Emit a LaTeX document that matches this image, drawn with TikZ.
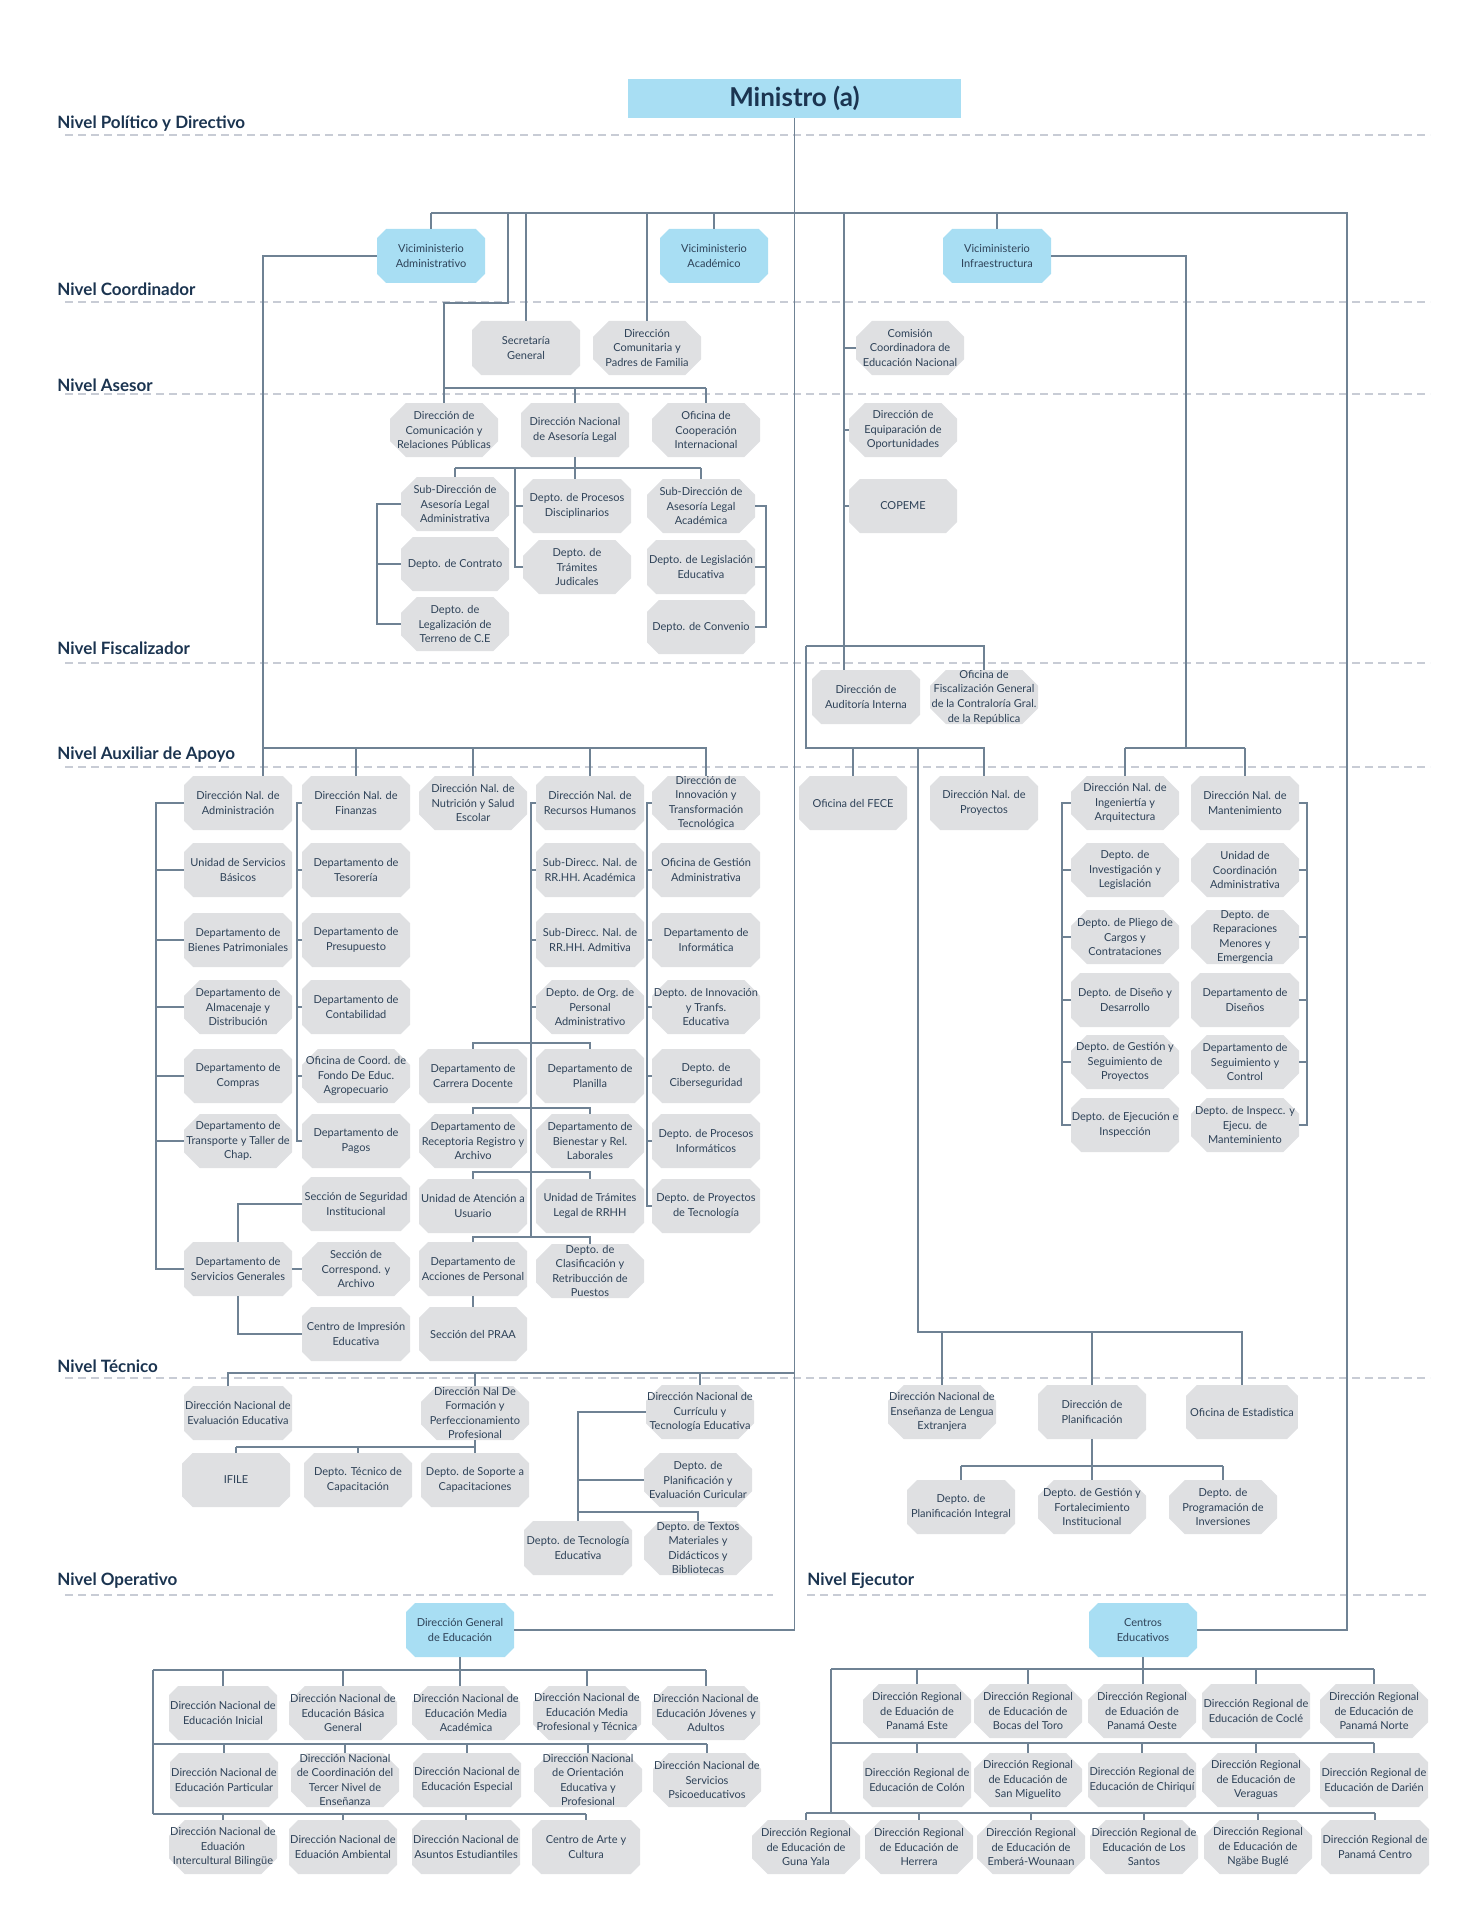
\documentclass[tikz,border=0pt]{standalone}
\usepackage{fontspec}
\setmainfont{Lato}
\usetikzlibrary{shapes.misc}
\definecolor{boxgray}{HTML}{DFE0E2}
\definecolor{boxblue}{HTML}{A8DEF3}
\definecolor{boxtext}{HTML}{2E4258}
\definecolor{navy}{HTML}{1B3450}
\definecolor{linecol}{HTML}{6F8294}
\definecolor{dashcol}{HTML}{C8CCD5}
\tikzset{
  box/.style={chamfered rectangle, chamfered rectangle xsep=4.5pt, fill=boxgray,
    minimum width=54pt, minimum height=27pt, inner xsep=-4.5pt, inner ysep=-4.5pt,
    align=center, text=boxtext, font=\fontsize{5.5}{7.3}\selectfont},
  boxone/.style={box, inner xsep=0pt, inner ysep=0pt},
  bluebox/.style={box, fill=boxblue},
  headbox/.style={rectangle, fill=boxblue, minimum width=166.5pt, minimum height=19.5pt,
    inner sep=0pt, text=navy, font=\fontsize{13}{15}\selectfont\bfseries},
  lvl/.style={anchor=west, inner sep=0pt, text=navy, font=\fontsize{8.5}{10}\selectfont\bfseries},
  lvlline/.style={draw=dashcol, line width=0.6pt, dash pattern=on 4pt off 2.5pt},
  conn/.style={draw=linecol, line width=0.7pt},
}
\begin{document}
\begin{tikzpicture}[x=0.5pt, y=-0.5pt]
\useasboundingbox (0,0) rectangle (1482,1920);

% niveles
\foreach \n/\ly/\dy/\t in {lpol/124/135/{Nivel Político y Directivo}, lcoo/289/302/{Nivel Coordinador},
  lase/385/394/{Nivel Asesor}, lfis/648/663/{Nivel Fiscalizador}, laux/755/767/{Nivel Auxiliar de Apoyo},
  ltec/1366/1378/{Nivel Técnico}}{
  \node[lvl] (\n) at (57,\ly) {\t};
  \draw[lvlline] (65,\dy) -- (1430,\dy);
}
\node[lvl] (lope) at (57,1581) {Nivel Operativo};
\draw[lvlline] (65,1595) -- (773,1595);
\node[lvl] (leje) at (807,1581) {Nivel Ejecutor};
\draw[lvlline] (807,1595) -- (1430,1595);

% politico y coordinador
\node[headbox] (min) at (794.5,98.5) {Ministro (a)};
\node[bluebox] (vadm) at (431,256) {Viciministerio\\Administrativo};
\node[bluebox] (vaca) at (714,256) {Viciministerio\\Académico};
\node[bluebox] (vinf) at (997,256) {Viciministerio\\Infraestructura};
\node[box] (sec) at (526,348) {Secretaría\\General};
\node[box] (dcom) at (647,348) {Dirección\\Comunitaria y\\Padres de Familia};
\node[box] (com) at (910,348) {Comisión\\Coordinadora de\\Educación Nacional};

% asesor
\node[box] (drp) at (444,430) {Dirección de\\Comunicación y\\Relaciones Públicas};
\node[box] (dal) at (575,430) {Dirección Nacional\\de Asesoría Legal};
\node[box] (oci) at (706,430) {Oficina de\\Cooperación\\Internacional};
\node[box] (deo) at (903,430) {Dirección de\\Equiparación de\\Oportunidades};
\node[boxone] (cop) at (903,506) {COPEME};
\node[box] (sla) at (455,504) {Sub-Dirección de\\Asesoría Legal\\Administrativa};
\node[boxone] (dcon) at (455,564) {Depto. de Contrato};
\node[box] (dleg) at (455,624) {Depto. de\\Legalización de\\Terreno de C.E};
\node[box] (dpd) at (577,506) {Depto. de Procesos\\Disciplinarios};
\node[box] (dtj) at (577,567) {Depto. de\\Trámites\\Judicales};
\node[box] (slac) at (701,506) {Sub-Dirección de\\Asesoría Legal\\Académica};
\node[box] (dle) at (701,567) {Depto. de Legislación\\Educativa};
\node[boxone] (dconv) at (701,627) {Depto. de Convenio};

% fiscalizador
\node[box] (dai) at (866,697) {Dirección de\\Auditoría Interna};
\node[box] (ofg) at (984,697) {Oficina de\\Fiscalización General\\de la Contraloría Gral.\\de la República};

% auxiliar de apoyo
\foreach \y/\t [count=\i] in {803/{Dirección Nal. de\\Administración}, 870/{Unidad de Servicios\\Básicos},
  940/{Departamento de\\Bienes Patrimoniales}, 1007/{Departamento de\\Almacenaje y\\Distribución},
  1076/{Departamento de\\Compras}, 1141/{Departamento de\\Transporte y Taller de\\Chap.}}
  \node[box] (adm\i) at (238,\y) {\t};
\node[box] (sgen) at (238,1269) {Departamento de\\Servicios Generales};
\foreach \y/\t [count=\i] in {803/{Dirección Nal. de\\Finanzas}, 870/{Departamento de\\Tesorería},
  940/{Departamento de\\Presupuesto}, 1007/{Departamento de\\Contabilidad},
  1076/{Oficina de Coord. de\\Fondo De Educ.\\Agropecuario}, 1141/{Departamento de\\Pagos}}
  \node[box] (fin\i) at (356,\y) {\t};
\node[box] (sseg) at (356,1204) {Sección de Seguridad\\Institucional};
\node[box] (scor) at (356,1269) {Sección de\\Correspond. y\\Archivo};
\node[box] (cimp) at (356,1334) {Centro de Impresión\\Educativa};
\node[box] (nut) at (473,803) {Dirección Nal. de\\Nutrición y Salud\\Escolar};
\foreach \y/\t [count=\i] in {803/{Dirección Nal. de\\Recursos Humanos}, 870/{Sub-Direcc. Nal. de\\RR.HH. Académica},
  940/{Sub-Direcc. Nal. de\\RR.HH. Admitiva}, 1007/{Depto. de Org. de\\Personal\\Administrativo}}
  \node[box] (rh\i) at (590,\y) {\t};
\node[box] (rhcd) at (473,1076) {Departamento de\\Carrera Docente};
\node[box] (rhpl) at (590,1076) {Departamento de\\Planilla};
\node[box] (rhre) at (473,1141) {Departamento de\\Receptoria Registro y\\Archivo};
\node[box] (rhbi) at (590,1141) {Departamento de\\Bienestar y Rel.\\Laborales};
\node[box] (rhua) at (473,1206) {Unidad de Atención a\\Usuario};
\node[box] (rhtl) at (590,1206) {Unidad de Trámites\\Legal de RRHH};
\node[box] (rhap) at (473,1269) {Departamento de\\Acciones de Personal};
\node[box] (rhcl) at (590,1271) {Depto. de\\Clasificación y\\Retribucción de\\Puestos};
\node[boxone] (praa) at (473,1334) {Sección del PRAA};
\foreach \y/\t [count=\i] in {803/{Dirección de\\Innovación y\\Transformación\\Tecnológica},
  870/{Oficina de Gestión\\Administrativa}, 940/{Departamento de\\Informática},
  1007/{Depto. de Innovación\\y Tranfs.\\Educativa}, 1076/{Depto. de\\Ciberseguridad},
  1141/{Depto. de Procesos\\Informáticos}, 1206/{Depto. de Proyectos\\de Tecnología}}
  \node[box] (inn\i) at (706,\y) {\t};
\node[boxone] (fece) at (853,803) {Oficina del FECE};
\node[box] (dnp) at (984,803) {Dirección Nal. de\\Proyectos};
\foreach \y/\t [count=\i] in {803/{Dirección Nal. de\\Ingeniertía y\\Arquitectura},
  870/{Depto. de\\Investigación y\\Legislación}, 937/{Depto. de Pliego de\\Cargos y\\Contrataciones},
  1000/{Depto. de Diseño y\\Desarrollo}, 1062/{Depto. de Gestión y\\Seguimiento de\\Proyectos},
  1125/{Depto. de Ejecución e\\Inspección}}
  \node[box] (ing\i) at (1125,\y) {\t};
\foreach \y/\t [count=\i] in {803/{Dirección Nal. de\\Mantenimiento},
  870/{Unidad de\\Coordinación\\Administrativa}, 937/{Depto. de\\Reparaciones\\Menores y\\Emergencia},
  1000/{Departamento de\\Diseños}, 1062/{Departamento de\\Seguimiento y\\Control},
  1125/{Depto. de Inspecc. y\\Ejecu. de\\Manteminiento}}
  \node[box] (man\i) at (1245,\y) {\t};

% tecnico
\node[box] (eval) at (238,1413) {Dirección Nacional de\\Evaluación Educativa};
\node[box] (form) at (475,1413) {Dirección Nal De\\Formación y\\Perfeccionamiento\\Profesional};
\node[boxone] (ifile) at (236,1480) {IFILE};
\node[box] (dtc) at (358,1480) {Depto. Técnico de\\Capacitación};
\node[box] (dsc) at (475,1480) {Depto. de Soporte a\\Capacitaciones};
\node[box] (curr) at (700,1412) {Dirección Nacional de\\Currículu y\\Tecnología Educativa};
\node[box] (dpe) at (698,1480) {Depto. de\\Planificación y\\Evaluación Curicular};
\node[box] (dte) at (578,1548) {Depto. de Tecnología\\Educativa};
\node[box] (dtx) at (698,1548) {Depto. de Textos\\Materiales y\\Didácticos y\\Bibliotecas};
\node[box] (ele) at (942,1412) {Dirección Nacional de\\Enseñanza de Lengua\\Extranjera};
\node[box] (dplan) at (1092,1412) {Dirección de\\Planificación};
\node[boxone] (est) at (1242,1412) {Oficina de Estadistica};
\node[box] (dpi) at (961,1507) {Depto. de\\Planificación Integral};
\node[box] (dgf) at (1092,1507) {Depto. de Gestión y\\Fortalecimiento\\Institucional};
\node[box] (dpinv) at (1223,1507) {Depto. de\\Programación de\\Inversiones};

% operativo
\node[bluebox] (dge) at (460,1630) {Dirección General\\de Educación};
\foreach \x/\t [count=\i] in {223/{Dirección Nacional de\\Educación Inicial},
  343/{Dirección Nacional de\\Educación Básica\\General}, 466/{Dirección Nacional de\\Educación Media\\Académica},
  587/{Dirección Nacional de\\Educación Media\\Profesional y Técnica},
  706/{Dirección Nacional de\\Educación Jóvenes y\\Adultos}}
  \node[box] (opa\i) at (\x,1713) {\t};
\foreach \x/\t [count=\i] in {224/{Dirección Nacional de\\Educación Particular},
  345/{Dirección Nacional\\de Coordinación del\\Tercer Nivel de\\Enseñanza},
  467/{Dirección Nacional de\\Educación Especial},
  588/{Dirección Nacional\\de Orientación\\Educativa y\\Profesional},
  707/{Dirección Nacional de\\Servicios\\Psicoeducativos}}
  \node[box] (opb\i) at (\x,1780) {\t};
\foreach \x/\t [count=\i] in {223/{Dirección Nacional de\\Eduación\\Intercultural Bilingüe},
  343/{Dirección Nacional de\\Eduación Ambiental}, 466/{Dirección Nacional de\\Asuntos Estudiantiles},
  586/{Centro de Arte y\\Cultura}}
  \node[box] (opc\i) at (\x,1847) {\t};

% ejecutor
\node[bluebox] (cen) at (1143,1630) {Centros\\Educativos};
\foreach \x/\t [count=\i] in {917/{Dirección Regional\\de Eduación de\\Panamá Este},
  1028/{Dirección Regional\\de Educación de\\Bocas del Toro}, 1142/{Dirección Regional\\de Eduación de\\Panamá Oeste},
  1256/{Dirección Regional de\\Educación de Coclé}, 1374/{Dirección Regional\\de Educación de\\Panamá Norte}}
  \node[box] (eja\i) at (\x,1711) {\t};
\foreach \x/\t [count=\i] in {917/{Dirección Regional de\\Educación de Colón},
  1028/{Dirección Regional\\de Educación de\\San Miguelito}, 1142/{Dirección Regional de\\Educación de Chiriquí},
  1256/{Dirección Regional\\de Educación de\\Veraguas}, 1374/{Dirección Regional de\\Educación de Darién}}
  \node[box] (ejb\i) at (\x,1780) {\t};
\foreach \x/\t [count=\i] in {806/{Dirección Regional\\de Educación de\\Guna Yala},
  919/{Dirección Regional\\de Educación de\\Herrera}, 1031/{Dirección Regional\\de Educación de\\Emberá-Wounaan},
  1144/{Dirección Regional de\\Educación de Los\\Santos}, 1258/{Dirección Regional\\de Educación de\\Ngäbe Buglé},
  1375/{Dirección Regional de\\Panamá Centro}}
  \node[box] (ejc\i) at (\x,1847) {\t};

% conectores arriba
\coordinate (tb) at (0,213);
\coordinate (tr) at (1347,213);
\draw[conn] (min.south) -- (min.south |- dge.east) -- (dge.east);
\draw[conn] (vadm.north |- tb) -- (tr) -- (tr |- cen.east) -- (cen.east);
\foreach \n in {vadm,vaca,vinf,sec,dcom} \draw[conn] (\n.north |- tb) -- (\n.north);
\coordinate (ka) at (508,213);
\coordinate (kb) at (508,303);
\coordinate (ab) at (0,388);
\draw[conn] (ka) -- (kb) -- (kb -| drp.north) -- (drp.north);
\draw[conn] (drp.north |- ab) -- (oci.north |- ab);
\foreach \n in {dal,oci} \draw[conn] (\n.north |- ab) -- (\n.north);
\coordinate (kc) at (844,213);
\draw[conn] (kc) -- (kc |- dai.north);
\foreach \n in {com,deo,cop} \draw[conn] (kc |- \n.west) -- (\n.west);

% asesoria legal
\coordinate (lb) at (0,468);
\coordinate (lc) at (515,468);
\coordinate (ld) at (377,0);
\coordinate (le) at (766,0);
\draw[conn] (dal.south) -- (dal.south |- dpd.north);
\draw[conn] (sla.north |- lb) -- (slac.north |- lb);
\foreach \n in {sla,slac} \draw[conn] (\n.north |- lb) -- (\n.north);
\draw[conn] (lc) -- (lc |- dtj.west) -- (dtj.west);
\draw[conn] (lc |- dpd.west) -- (dpd.west);
\draw[conn] (sla.west) -- (sla.west -| ld) -- (ld |- dleg.west) -- (dleg.west);
\draw[conn] (dcon.west) -- (dcon.west -| ld);
\draw[conn] (slac.east) -- (slac.east -| le) -- (le |- dconv.east) -- (dconv.east);
\draw[conn] (dle.east) -- (dle.east -| le);

% fiscalizador
\coordinate (fb) at (806,646);
\coordinate (fc) at (806,748);
\coordinate (fd) at (918,748);
\coordinate (fe) at (918,1332);
\draw[conn] (fb) -- (fb -| ofg.north) -- (ofg.north);
\draw[conn] (fb) -- (fc) -- (fc -| dnp.north) -- (dnp.north);
\draw[conn] (fc -| fece.north) -- (fece.north);
\draw[conn] (fd) -- (fe) -- (fe -| est.north) -- (est.north);
\foreach \n in {ele,dplan} \draw[conn] (fe -| \n.north) -- (\n.north);

% auxiliar
\coordinate (la) at (263,748);
\coordinate (ra) at (1186,748);
\draw[conn] (vadm.west) -- (vadm.west -| la) -- (la |- adm1.north);
\draw[conn] (la) -- (la -| inn1.north) -- (inn1.north);
\foreach \n in {fin1,nut,rh1} \draw[conn] (\n.north |- la) -- (\n.north);
\draw[conn] (vinf.east) -- (vinf.east -| ra) -- (ra);
\draw[conn] (ing1.north |- ra) -- (man1.north |- ra);
\foreach \n in {ing1,man1} \draw[conn] (\n.north |- ra) -- (\n.north);

\coordinate (xadm) at (156,0);
\coordinate (xfin) at (297,0);
\coordinate (xrh) at (531,1237);
\coordinate (xinn) at (647,0);
\coordinate (xing) at (1062,0);
\coordinate (xman) at (1307,0);
\draw[conn] (adm1.west) -- (adm1.west -| xadm) -- (xadm |- sgen.west) -- (sgen.west);
\foreach \i in {2,...,6} \draw[conn] (adm\i.west) -- (adm\i.west -| xadm);
\draw[conn] (fin1.west) -- (fin1.west -| xfin) -- (xfin |- fin6.west) -- (fin6.west);
\foreach \i in {2,...,5} \draw[conn] (fin\i.west) -- (fin\i.west -| xfin);
\draw[conn] (sgen.north) -- (sgen.north |- sseg.west) -- (sseg.west);
\draw[conn] (sgen.east) -- (scor.west);
\draw[conn] (sgen.south) -- (sgen.south |- cimp.west) -- (cimp.west);
\draw[conn] (rh1.west) -- (rh1.west -| xrh) -- (xrh);
\foreach \i in {2,...,4} \draw[conn] (rh\i.west) -- (rh\i.west -| xrh);
\foreach \a/\b/\y in {rhcd/rhpl/1043, rhre/rhbi/1108, rhua/rhtl/1172, rhap/rhcl/1237}{
  \coordinate (q) at (0,\y);
  \draw[conn] (\a.north) -- (\a.north |- q) -- (\b.north |- q) -- (\b.north);
}
\draw[conn] (rhap.south) -- (praa.north);
\draw[conn] (inn1.west) -- (inn1.west -| xinn) -- (xinn |- inn7.west) -- (inn7.west);
\foreach \i in {2,...,6} \draw[conn] (inn\i.west) -- (inn\i.west -| xinn);
\draw[conn] (ing1.west) -- (ing1.west -| xing) -- (xing |- ing6.west) -- (ing6.west);
\foreach \i in {2,...,5} \draw[conn] (ing\i.west) -- (ing\i.west -| xing);
\draw[conn] (man1.east) -- (man1.east -| xman) -- (xman |- man6.east) -- (man6.east);
\foreach \i in {2,...,5} \draw[conn] (man\i.east) -- (man\i.east -| xman);

% tecnico
\coordinate (tb2) at (228,1373);
\coordinate (fb2) at (0,1447);
\coordinate (cb) at (578,0);
\coordinate (cc) at (578,1512);
\coordinate (pb) at (0,1466);
\draw[conn] (tb2 |- eval.north) -- (tb2) -- (tb2 -| min.south);
\foreach \n in {form,curr} \draw[conn] (\n.north |- tb2) -- (\n.north);
\draw[conn] (form.south) -- (form.south |- fb2);
\draw[conn] (ifile.north |- fb2) -- (dsc.north |- fb2);
\foreach \n in {ifile,dtc,dsc} \draw[conn] (\n.north |- fb2) -- (\n.north);
\draw[conn] (curr.west) -- (curr.west -| cb) -- (cb |- dte.north);
\draw[conn] (dpe.west) -- (dpe.west -| cb);
\draw[conn] (cc) -- (cc -| dtx.north) -- (dtx.north);
\draw[conn] (dplan.south) -- (dgf.north);
\draw[conn] (dpi.north |- pb) -- (dpinv.north |- pb);
\foreach \n in {dpi,dpinv} \draw[conn] (\n.north |- pb) -- (\n.north);

% operativo
\coordinate (o1) at (153,1670);
\coordinate (o2) at (153,1744);
\coordinate (o3) at (153,1814);
\draw[conn] (dge.south) -- (dge.south |- opa3.north);
\draw[conn] (o1) -- (o3);
\draw[conn] (o1) -- (o1 -| opa5.north);
\draw[conn] (o2) -- (o2 -| opb5.north);
\draw[conn] (o3) -- (o3 -| opc4.north);
\foreach \i in {1,2,4,5} \draw[conn] (opa\i.north |- o1) -- (opa\i.north);
\foreach \i in {1,...,5} \draw[conn] (opb\i.north |- o2) -- (opb\i.north);
\foreach \i in {1,...,4} \draw[conn] (opc\i.north |- o3) -- (opc\i.north);

% ejecutor
\coordinate (e1) at (831,1669);
\coordinate (e2) at (831,1743);
\coordinate (e3) at (831,1813);
\draw[conn] (cen.south) -- (cen.south |- eja3.north);
\draw[conn] (e1) -- (e3);
\draw[conn] (e1) -- (e1 -| eja5.north);
\draw[conn] (e2) -- (e2 -| ejb5.north);
\draw[conn] (ejc1.north |- e3) -- (ejc6.north |- e3);
\foreach \i in {1,2,4,5} \draw[conn] (eja\i.north |- e1) -- (eja\i.north);
\foreach \i in {1,...,5} \draw[conn] (ejb\i.north |- e2) -- (ejb\i.north);
\foreach \i in {1,...,6} \draw[conn] (ejc\i.north |- e3) -- (ejc\i.north);
\end{tikzpicture}
\end{document}
